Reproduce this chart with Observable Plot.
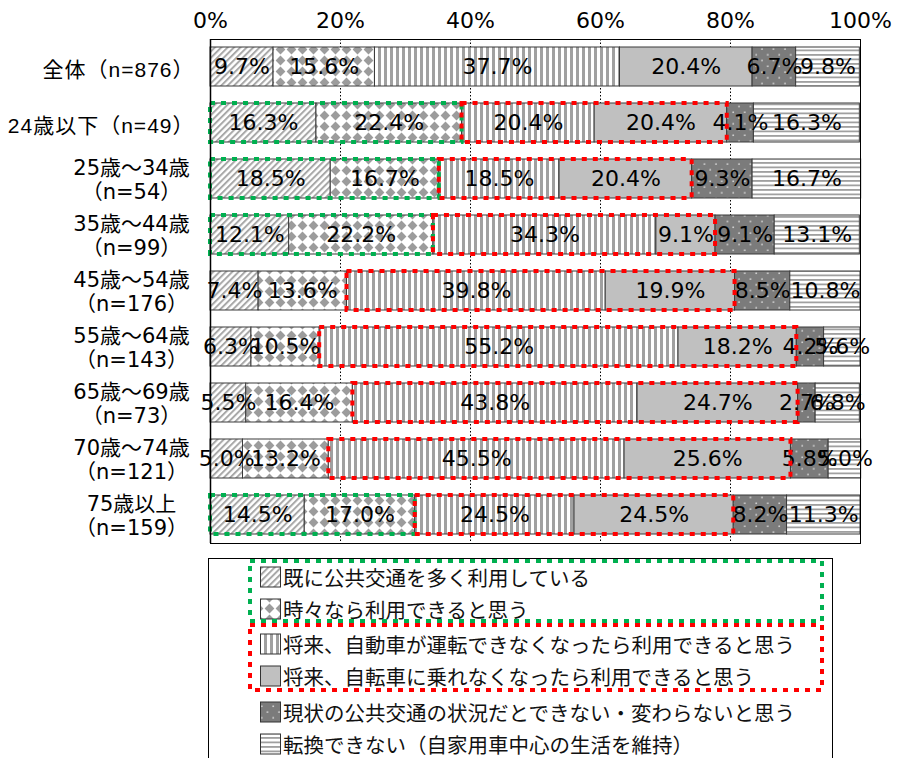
<!DOCTYPE html>
<html><head><meta charset="utf-8">
<script src="https://cdn.jsdelivr.net/npm/d3@7"></script>
<script src="https://cdn.jsdelivr.net/npm/@observablehq/plot@0.6"></script>
<style>
body{margin:0;background:#fff;}
#wrap{position:relative;width:897px;height:758px;overflow:hidden;background:#fff;}
#wrap svg{position:absolute;left:0;}
.rowlab{letter-spacing:1px;}
</style></head><body><div id="wrap"></div>
<script>
// ---- data ----
const categories = [
  "全体（n=876）",
  "24歳以下（n=49）",
  "25歳～34歳\n（n=54）",
  "35歳～44歳\n（n=99）",
  "45歳～54歳\n（n=176）",
  "55歳～64歳\n（n=143）",
  "65歳～69歳\n（n=73）",
  "70歳～74歳\n（n=121）",
  "75歳以上\n（n=159）"
];
const seriesNames = [
  "既に公共交通を多く利用している",
  "時々なら利用できると思う",
  "将来、自動車が運転できなくなったら利用できると思う",
  "将来、自転車に乗れなくなったら利用できると思う",
  "現状の公共交通の状況だとできない・変わらないと思う",
  "転換できない（自家用車中心の生活を維持）"
];
const s1 = [9.7, 16.3, 18.5, 12.1, 7.4, 6.3, 5.5, 5.0, 14.5];
const s2 = [15.6, 22.4, 16.7, 22.2, 13.6, 10.5, 16.4, 13.2, 17.0];
const s3 = [37.7, 20.4, 18.5, 34.3, 39.8, 55.2, 43.8, 45.5, 24.5];
const s4 = [20.4, 20.4, 20.4, 9.1, 19.9, 18.2, 24.7, 25.6, 24.5];
const s5 = [6.7, 4.1, 9.3, 9.1, 8.5, 4.2, 2.7, 5.8, 8.2];
const s6 = [9.8, 16.3, 16.7, 13.1, 10.8, 5.6, 6.8, 5.0, 11.3];
const xTicks = [0, 20, 40, 60, 80, 100];
const gridTicks = [20, 40, 60, 80];
const greenRows = [false, true, true, true, false, false, false, false, true];
const redRows = [false, true, true, true, true, true, true, true, true];

const seriesValues = [s1, s2, s3, s4, s5, s6];
const patternIds = ["pHatch", "pDiamond", "pVStripe", "pSolid", "pDots", "pHStripe"];

const data = [];
categories.forEach((c, i) => seriesValues.forEach((vals, j) => {
  data.push({cat: c, idx: j, series: seriesNames[j], value: vals[i]});
}));
const greenBoxes = categories.map((c, i) => ({cat: c, x1: 0, x2: s1[i] + s2[i]})).filter((d, i) => greenRows[i]);
const redBoxes = categories.map((c, i) => ({cat: c, x1: s1[i] + s2[i], x2: s1[i] + s2[i] + s3[i] + s4[i]})).filter((d, i) => redRows[i]);

const latin = "'DejaVu Sans', 'Noto Sans CJK JP', sans-serif";
const latin2 = "'Liberation Sans', 'Noto Sans CJK JP', sans-serif";
const cjk = "'Noto Sans CJK JP', sans-serif";

const plot = Plot.plot({
  width: 897, height: 548,
  marginTop: 39, marginBottom: 5, marginLeft: 210, marginRight: 37,
  style: {fontFamily: latin, fontSize: "22px", color: "#000", background: "transparent"},
  x: {domain: [0, 100]},
  y: {domain: categories, paddingInner: 0.3, paddingOuter: 0.15, axis: null},
  color: {type: "identity"},
  marks: [
    Plot.ruleX(gridTicks, {stroke: "#000", strokeWidth: 1, strokeDasharray: "1.5,2"}),
    Plot.barX(data, {x: "value", y: "cat", z: "idx", fill: d => `url(#${patternIds[d.idx]})`, stroke: "#3a3a3a", strokeWidth: 1}),
    Plot.text(data, Plot.stackX({x: "value", y: "cat", z: "idx", text: d => d.value.toFixed(1) + "%", fill: "#000", fontSize: 22, fontFamily: latin})),
    Plot.barX(greenBoxes, {x1: "x1", x2: "x2", y: "cat", fill: "none", stroke: "#00b050", strokeWidth: 4, strokeDasharray: "5,6"}),
    Plot.barX(redBoxes, {x1: "x1", x2: "x2", y: "cat", fill: "none", stroke: "#ff0000", strokeWidth: 4, strokeDasharray: "5,6"}),
    Plot.frame({stroke: "#000", strokeWidth: 1}),
    Plot.ruleX([0], {stroke: "#000", strokeWidth: 1.5}),
    Plot.axisX(xTicks, {anchor: "top", tickSize: 0, tickPadding: 12, tickFormat: d => d + "%", fontSize: 22, fontFamily: latin}),
    Plot.text(categories.filter((c, i) => !c.includes("\n")), {y: d => d, text: d => d, frameAnchor: "left", dx: -16, dy: 3, textAnchor: "end", fontSize: 21, fontFamily: latin2, fill: "#000", className: "rowlab"}),
    Plot.text(categories.filter((c, i) => c.includes("\n")), {y: d => d, text: d => d, frameAnchor: "left", dx: -79, textAnchor: "middle", lineHeight: 1.15, fontSize: 21, fontFamily: latin, fill: "#000"})
  ]
});
plot.style.top = "0px";
document.getElementById("wrap").appendChild(plot);

// ---- patterns ----
const defs = d3.select(plot).insert("defs", ":first-child");
function pat(id, w, h, tr) {
  const p = defs.append("pattern").attr("id", id).attr("patternUnits", "userSpaceOnUse").attr("width", w).attr("height", h);
  if (tr) p.attr("patternTransform", tr);
  return p;
}
let p = pat("pHatch", 4.5, 4.5, "rotate(45)");
p.append("rect").attr("width", 4.5).attr("height", 4.5).attr("fill", "#fff");
p.append("rect").attr("width", 2).attr("height", 4.5).attr("fill", "#a8a8a8");

p = pat("pDiamond", 11, 11);
p.append("rect").attr("width", 11).attr("height", 11).attr("fill", "#fff");
p.append("polygon").attr("points", "5.5,0.6 10.4,5.5 5.5,10.4 0.6,5.5").attr("fill", "#9c9c9c");

p = pat("pVStripe", 6, 6);
p.append("rect").attr("width", 6).attr("height", 6).attr("fill", "#fff");
p.append("rect").attr("x", 0).attr("width", 3).attr("height", 6).attr("fill", "#a0a0a0");

p = pat("pSolid", 10, 10);
p.append("rect").attr("width", 10).attr("height", 10).attr("fill", "#c0c0c0");

p = pat("pDots", 11.5, 11.5);
p.append("rect").attr("width", 11.5).attr("height", 11.5).attr("fill", "#7b7b7b");
p.append("circle").attr("cx", 3).attr("cy", 3).attr("r", 0.9).attr("fill", "#d8d8d8");
p.append("circle").attr("cx", 8.75).attr("cy", 8.75).attr("r", 0.9).attr("fill", "#d8d8d8");

p = pat("pHStripe", 6, 4.5);
p.append("rect").attr("width", 6).attr("height", 4.5).attr("fill", "#fff");
p.append("rect").attr("y", 0).attr("width", 6).attr("height", 1.8).attr("fill", "#a0a0a0");

// ---- legend ----
const top0 = 548;
const lg = d3.select("#wrap").append("svg").attr("width", 897).attr("height", 758 - top0).style("top", top0 + "px");
lg.append("rect").attr("x", 208.5).attr("y", 558.5 - top0).attr("width", 624).attr("height", 400).attr("fill", "#fff").attr("stroke", "#000").attr("stroke-width", 1);
const rowsY = [577, 609, 644, 676, 712, 744];
seriesNames.forEach((s, j) => {
  const cy = rowsY[j] - top0;
  lg.append("rect").attr("x", 260.5).attr("y", cy - 10).attr("width", 20).attr("height", 20)
    .attr("fill", `url(#${patternIds[j]})`).attr("stroke", "#333").attr("stroke-width", 1);
  lg.append("text").attr("x", 283).attr("y", cy).attr("dominant-baseline", "central")
    .attr("font-family", cjk).attr("font-size", 20.5).attr("fill", "#111").text(s);
});
lg.append("rect").attr("x", 250).attr("y", 561 - top0).attr("width", 572).attr("height", 60)
  .attr("fill", "none").attr("stroke", "#00b050").attr("stroke-width", 4).attr("stroke-dasharray", "5,6");
lg.append("rect").attr("x", 250).attr("y", 625 - top0).attr("width", 572).attr("height", 65)
  .attr("fill", "none").attr("stroke", "#ff0000").attr("stroke-width", 4).attr("stroke-dasharray", "5,6");
</script></body></html>
